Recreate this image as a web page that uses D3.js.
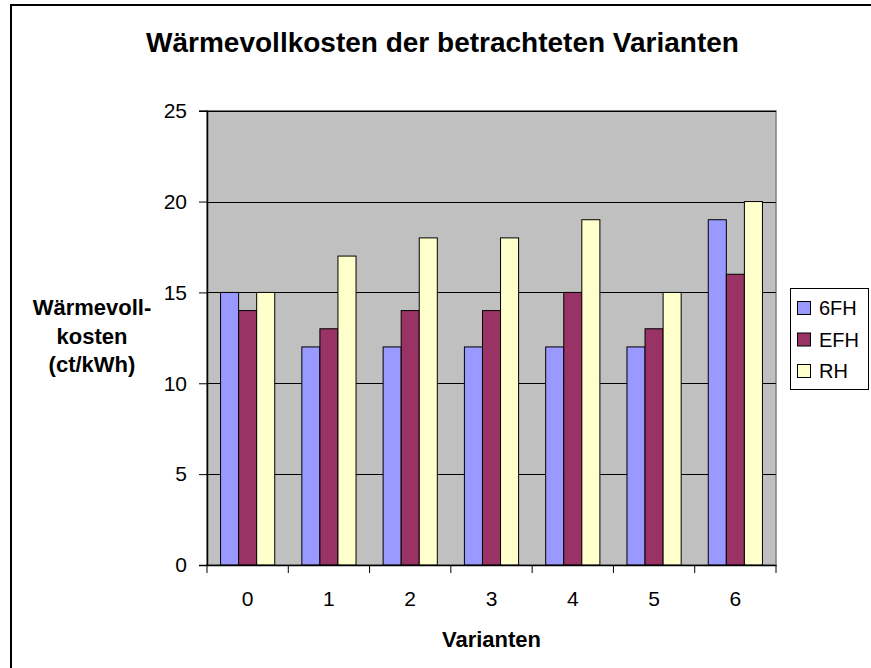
<!DOCTYPE html>
<html>
<head>
<meta charset="utf-8">
<script src="https://cdn.jsdelivr.net/npm/d3@7"></script>
<style>
html,body{margin:0;padding:0;background:#fff;}
svg{display:block;font-family:"Liberation Sans",Arial,sans-serif;}
</style>
</head>
<body>
<svg id="chart" width="871" height="668"></svg>
<script>
const categories = ["0","1","2","3","4","5","6"];
const seriesNames = ["6FH","EFH","RH"];
const values6FH = [15,12,12,12,12,12,19];
const valuesEFH = [14,13,14,14,15,13,16];
const valuesRH  = [15,17,18,18,19,15,20];
const yTicks = [0,5,10,15,20,25];
const colors = ["#9999FF","#993366","#FFFFCC"];
const seriesValues = [values6FH, valuesEFH, valuesRH];

const svg = d3.select("#chart");
const W = 871, H = 668;
const plot = {left:207, right:776, top:110.7, bottom:565};

// outer chart border
svg.append("rect").attr("x",11).attr("y",5).attr("width",880).attr("height",680)
  .attr("fill","#fff").attr("stroke","#000").attr("stroke-width",2);

const x0 = d3.scaleBand().domain(categories).range([plot.left, plot.right]).paddingInner(0).paddingOuter(0);
const x1 = d3.scaleBand().domain(seriesNames).range([0, x0.bandwidth()]).paddingInner(0).paddingOuter(0.75);
const y = d3.scaleLinear().domain([0,25]).range([plot.bottom, plot.top]);

// plot area
svg.append("rect").attr("x",plot.left).attr("y",plot.top)
  .attr("width",plot.right-plot.left).attr("height",plot.bottom-plot.top)
  .attr("fill","#C0C0C0").attr("stroke","#808080").attr("stroke-width",1.5);

// gridlines
svg.append("g").selectAll("line").data(yTicks.filter(d=>d>0)).join("line")
  .attr("x1",plot.left).attr("x2",plot.right)
  .attr("y1",d=>Math.round(y(d))+0.5).attr("y2",d=>Math.round(y(d))+0.5)
  .attr("stroke","#000").attr("stroke-width",1);

// bars
const groups = svg.append("g").selectAll("g").data(categories).join("g")
  .attr("transform",d=>`translate(${x0(d)},0)`);
groups.selectAll("rect").data((c,i)=>seriesNames.map((s,j)=>({s, v:seriesValues[j][i], j})))
  .join("rect")
  .attr("x",d=>x1(d.s)).attr("width",x1.bandwidth())
  .attr("y",d=>y(d.v)).attr("height",d=>y(0)-y(d.v))
  .attr("fill",d=>colors[d.j]).attr("stroke","#000").attr("stroke-width",1);

// y axis
const yAxis = d3.axisLeft(y).tickValues(yTicks).tickSize(8).tickPadding(12).tickFormat(d3.format("d"));
const gy = svg.append("g").attr("transform",`translate(${plot.left},0)`).call(yAxis);
gy.select(".domain").attr("stroke","#000").attr("stroke-width",1.5);
gy.selectAll(".tick line").attr("stroke","#000");
gy.selectAll(".tick text").attr("font-size",21).attr("fill","#000")
  .attr("font-family","Liberation Sans, Arial, sans-serif");

// x axis
const gx = svg.append("g").attr("transform",`translate(0,${plot.bottom})`)
  .call(d3.axisBottom(x0).tickSize(0).tickPadding(0));
gx.select(".domain").attr("stroke","#000").attr("stroke-width",1.5);
gx.selectAll(".tick text").attr("font-size",21).attr("fill","#000").attr("dy",null).attr("y",41)
  .attr("font-family","Liberation Sans, Arial, sans-serif");
// category boundary ticks
gx.append("g").selectAll("line").data(d3.range(categories.length+1)).join("line")
  .attr("x1",i=>plot.left + i*x0.step()).attr("x2",i=>plot.left + i*x0.step())
  .attr("y1",0).attr("y2",8).attr("stroke","#000");

// title
svg.append("text").attr("x",442.5).attr("y",52).attr("text-anchor","middle")
  .attr("font-size",28).attr("font-weight","bold").attr("fill","#000")
  .text("Wärmevollkosten der betrachteten Varianten");

// x axis title
svg.append("text").attr("x",(plot.left+plot.right)/2).attr("y",647).attr("text-anchor","middle")
  .attr("font-size",22).attr("font-weight","bold").text("Varianten");

// y axis title
const yl = svg.append("text").attr("text-anchor","middle").attr("font-size",22).attr("font-weight","bold");
["Wärmevoll-","kosten","(ct/kWh)"].forEach((t,i)=>{
  yl.append("tspan").attr("x",92).attr("y",315+i*28.5).text(t);
});

// legend
const lg = svg.append("g");
lg.append("rect").attr("x",790.5).attr("y",288.5).attr("width",78).attr("height",101)
  .attr("fill","#fff").attr("stroke","#000").attr("stroke-width",1);
const li = lg.selectAll("g.item").data(seriesNames).join("g").attr("class","item")
  .attr("transform",(d,i)=>`translate(0,${i*31.5})`);
li.append("rect").attr("x",797.5).attr("y",301.5).attr("width",13).attr("height",13)
  .attr("fill",(d,i)=>colors[i]).attr("stroke","#000").attr("stroke-width",1);
li.append("text").attr("x",819).attr("y",315).attr("font-size",20).text(d=>d);
</script>
</body>
</html>
